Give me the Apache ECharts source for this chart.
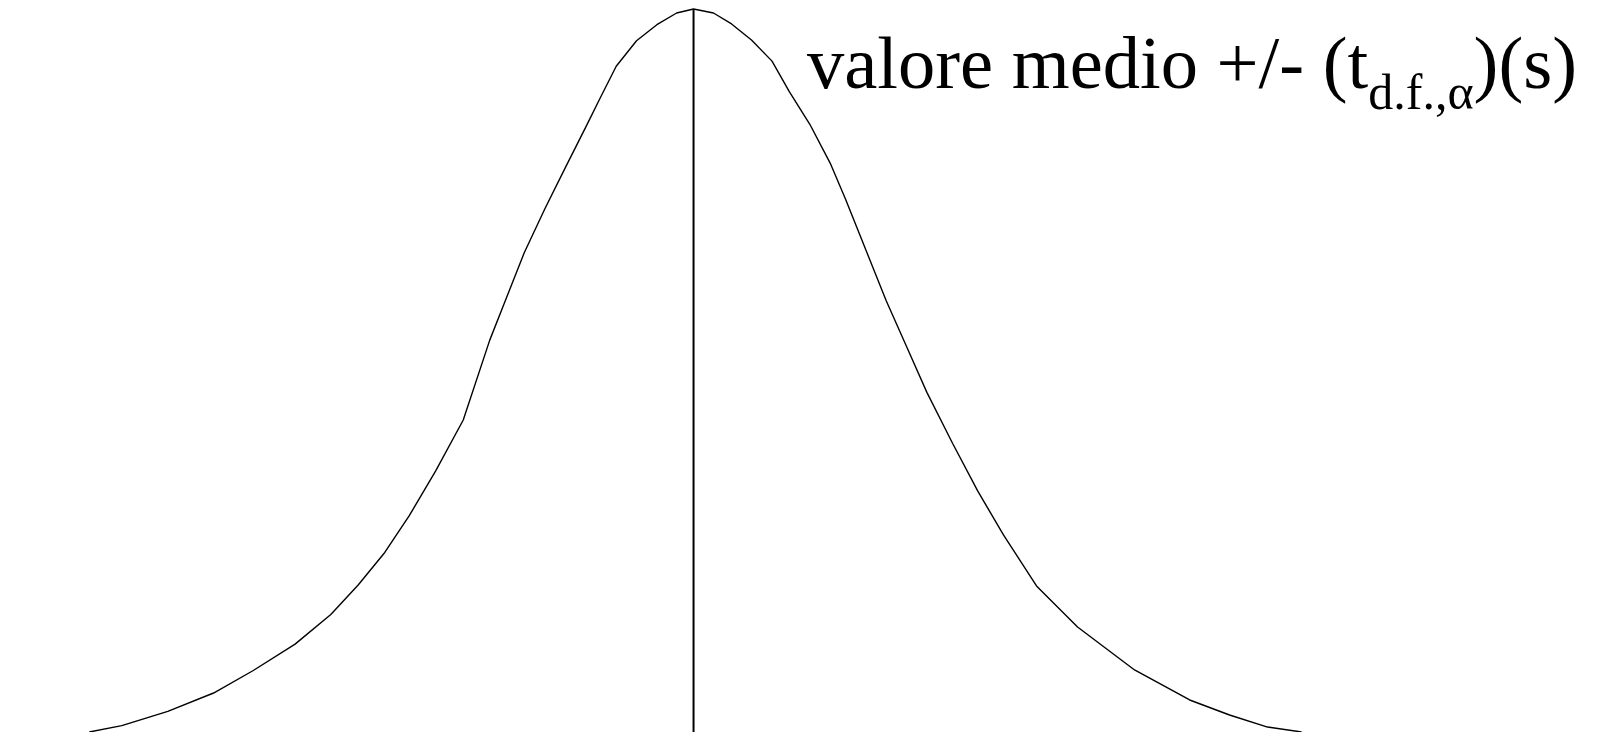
<!DOCTYPE html>
<html>
<head>
<meta charset="utf-8">
<script src="https://cdn.jsdelivr.net/npm/echarts@6/dist/echarts.min.js"></script>
<style>
  html, body { margin: 0; padding: 0; background: #ffffff; }
  #chart { width: 1598px; height: 732px; }
</style>
</head>
<body>
<div id="chart"></div>
<script>
// Standardised deviation from the mean (t units)
const tValues = [
  -3.180, -3.009, -2.767, -2.526, -2.317, -2.097, -1.909, -1.765, -1.625,
  -1.496, -1.357, -1.212, -1.073, -0.997, -0.891, -0.783, -0.676, -0.568,
  -0.488, -0.407, -0.300, -0.193, -0.089, 0.000, 0.105, 0.200, 0.305,
  0.413, 0.504, 0.612, 0.719, 0.799, 0.906, 1.014, 1.121, 1.228,
  1.363, 1.496, 1.631, 1.805, 2.021, 2.321, 2.611, 2.821, 3.021, 3.200
];
// Probability density at each t
const density = [
  0.0000, 0.0035, 0.0113, 0.0213, 0.0336, 0.0480, 0.0642, 0.0803, 0.0981,
  0.1182, 0.1427, 0.1705, 0.2140, 0.2340, 0.2619, 0.2858, 0.3081, 0.3304,
  0.3471, 0.3638, 0.3777, 0.3865, 0.3929, 0.3951, 0.3929, 0.3869, 0.3781,
  0.3666, 0.3499, 0.3321, 0.3109, 0.2914, 0.2636, 0.2357, 0.2107, 0.1856,
  0.1578, 0.1316, 0.1077, 0.0798, 0.0574, 0.0339, 0.0175, 0.0093, 0.0027, 0.0000
];
// Mean marker: from the baseline up to the peak
const meanT = [0, 0];
const meanDensity = [0, 0.3951];

const labelMain = 'valore medio +/- (t';
const labelSub = 'd.f.,\u03b1';
const labelTail = ')(s)';

const FONT = '"Liberation Serif", "Times New Roman", serif';
const mainSize = 74.5;
const subSize = 50;

const chart = echarts.init(document.getElementById('chart'), null, { renderer: 'canvas' });

// Lay the label pieces side by side using measured text widths
const ctx = document.createElement('canvas').getContext('2d');
function widthOf(text, size) {
  ctx.font = size + 'px ' + FONT;
  return ctx.measureText(text).width;
}
const textLeft = 807;
const mainBaseline = 91;
const subBaseline = 111;
const wMain = widthOf(labelMain, mainSize);
const wSub = widthOf(labelSub, subSize);

function piece(text, x, baseline, size) {
  return {
    type: 'text',
    left: x,
    top: baseline - size * 0.81,
    style: { text: text, font: size + 'px ' + FONT, fill: '#000000' }
  };
}

const curve = tValues.map((t, i) => [t, density[i]]);
const mean = meanT.map((t, i) => [t, meanDensity[i]]);

chart.setOption({
  backgroundColor: '#ffffff',
  animation: false,
  grid: { left: 0, right: 0, top: 0, bottom: 0 },
  xAxis: { type: 'value', min: -3.65, max: 4.76, show: false },
  yAxis: { type: 'value', min: 0, max: 0.40, show: false },
  series: [
    {
      type: 'line',
      data: curve,
      symbol: 'none',
      smooth: false,
      lineStyle: { color: '#000000', width: 1.4 },
      silent: true
    },
    {
      type: 'line',
      data: mean,
      symbol: 'none',
      lineStyle: { color: '#000000', width: 2 },
      silent: true
    }
  ],
  graphic: [
    piece(labelMain, textLeft, mainBaseline, mainSize),
    piece(labelSub, textLeft + wMain, subBaseline, subSize),
    piece(labelTail, textLeft + wMain + wSub, mainBaseline, mainSize)
  ]
});
</script>
</body>
</html>
